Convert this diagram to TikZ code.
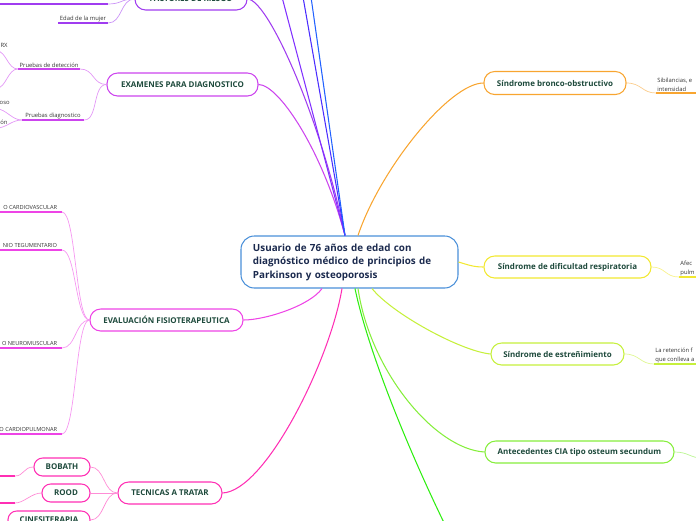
\documentclass[tikz,border=0pt]{standalone}
\usepackage{fontspec}
\setmainfont{Open Sans}
\usetikzlibrary{positioning}

\definecolor{hubline}{HTML}{4A90D9}
\definecolor{hubtext}{HTML}{1B2A4E}
\definecolor{nodetext}{HTML}{1E4A3C}
\definecolor{leaftext}{HTML}{333333}
\definecolor{riesgo}{HTML}{A03CF0}
\definecolor{examen}{HTML}{CC44EE}
\definecolor{evalua}{HTML}{EE44E6}
\definecolor{tecnica}{HTML}{FF2FB4}
\definecolor{bronco}{HTML}{F8A530}
\definecolor{dificul}{HTML}{F2E830}
\definecolor{estreni}{HTML}{C6F03C}
\definecolor{cia}{HTML}{86EE3C}
\definecolor{verde}{HTML}{2EEE10}
\definecolor{topa}{HTML}{8030FF}
\definecolor{topb}{HTML}{4A2CFF}
\definecolor{topc}{HTML}{2060FF}

\tikzset{
  hub/.style={draw=hubline, line width=0.9pt, rounded corners=4mm, fill=white,
    text=hubtext, font=\bfseries\fontsize{8.4}{11.5}\selectfont,
    align=left, text width=5.79cm, inner xsep=3.6mm, minimum height=1.56cm},
  topic/.style={draw=#1, line width=0.9pt, rounded corners=3.2mm, fill=white,
    text=nodetext, font=\bfseries\fontsize{6.8}{8}\selectfont,
    inner sep=0pt, minimum height=0.66cm},
  subtopic/.style={topic=#1, rounded corners=2.6mm, minimum height=0.54cm},
  branch/.style={draw=#1, line width=0.9pt},
  twig/.style={draw=#1!55, line width=0.6pt},
  uline/.style={draw=#1, line width=1.5pt},
  leaf/.style={text=leaftext, font=\fontsize{5}{7.6}\selectfont, inner sep=1pt},
  capsleaf/.style={leaf, font=\fontsize{4.8}{6}\selectfont, inner xsep=4pt, inner ysep=1.5pt},
}

\begin{document}
\begin{tikzpicture}[x=0.03cm, y=-0.03cm]

\useasboundingbox (0,0) rectangle (696,520);
\clip (0,0) rectangle (696,520);

% central topic
\node[hub] (hub) at (349.5,262)
  {Usuario de 76 años de edad con\\diagnóstico médico de principios de\\Parkinson y osteoporosis};

% left main topics
\node[topic=riesgo, minimum width=3.36cm] (fr) at (191,-1) {FACTORES DE RIESGO};
\node[topic=examen, minimum width=4.53cm, minimum height=0.69cm] (ex) at (182.5,84.5) {EXAMENES PARA DIAGNOSTICO};
\node[topic=evalua, minimum width=4.59cm] (ev) at (166.5,320) {EVALUACIÓN FISIOTERAPEUTICA};
\node[topic=tecnica, minimum width=3.12cm] (tec) at (170,493) {TECNICAS A TRATAR};

% right main topics
\node[topic=bronco, minimum width=4.26cm, minimum height=0.69cm] (bro) at (555,83) {Síndrome bronco-obstructivo};
\node[topic=dificul, minimum width=5.01cm] (dif) at (567.5,267) {Síndrome de dificultad respiratoria};
\node[topic=estreni, minimum width=3.99cm] (est) at (557.5,354) {Síndrome de estreñimiento};
\node[topic=cia, minimum width=5.67cm] (ant) at (579.5,452) {Antecedentes CIA tipo osteum secundum};

% branches to the hub
\draw[branch=riesgo] (fr.east) .. controls +(20,0) and +(-25,-120) .. ([xshift=-1.35mm]hub.north);
\draw[branch=examen] (ex.east) .. controls +(20,0) and +(-23,-86) .. ([xshift=-1.35mm]hub.north);
\foreach \x/\c [count=\i] in {282/topa, 303/topb, 311/topc} {
  \coordinate (up\i) at (\x,-3);
  \draw[branch=\c] (up\i) -- ([xshift=-1.35mm]hub.north);
}
\draw[branch=bronco] ([xshift=2.55mm]hub.north) .. controls +(22,-66) and +(-34,0) .. (bro.west);
\draw[branch=dificul] (hub.east) .. controls +(10,3) and +(-10,0) .. (dif.west);
\draw[branch=estreni] ([xshift=6.75mm]hub.south) .. controls +(20,25) and +(-30,-3) .. (est.west);
\draw[branch=cia] ([xshift=2.55mm]hub.south) .. controls +(12,82) and +(-50,-3) .. (ant.west);
\coordinate (gdown) at (450,535);
\draw[branch=verde] ([xshift=1.65mm]hub.south) .. controls +(13,62) and +(-42,-85) .. (gdown);
\draw[branch=evalua] ([xshift=-8.25mm]hub.south) .. controls +(-12,17) and +(22,0) .. (ev.east);
\draw[branch=tecnica] ([xshift=-2.25mm]hub.south) .. controls +(-12,72) and +(43,-2) .. (tec.east);

% factores de riesgo
\coordinate (fr1) at (108,4);
\node[leaf, anchor=south, minimum width=1.5cm] (edad) at (83,23) {Edad de la mujer};
\draw[uline=riesgo] (fr1) -- ++(-115,0);
\draw[uline=riesgo] (edad.south west) -- (edad.south east);
\draw[twig=riesgo] (fr.west) .. controls +(-14,0) and +(14,0) .. (fr1);
\draw[twig=riesgo] (fr.west) .. controls +(-14,0) and +(14,0) .. (edad.south east);

% examenes
\node[leaf, anchor=south, minimum width=1.86cm] (pdet) at (49,69) {Pruebas de detección};
\node[leaf, anchor=south, minimum width=1.86cm] (pdiag) at (53,120) {Pruebas diagnostico};
\draw[uline=examen] (pdet.south west) -- (pdet.south east);
\draw[uline=examen] (pdiag.south west) -- (pdiag.south east);
\draw[twig=examen] (ex.west) .. controls +(-14,0) and +(14,0) .. (pdet.south east);
\draw[twig=examen] (ex.west) .. controls +(-14,0) and +(14,0) .. (pdiag.south east);
\node[leaf, anchor=east] (rx) at (9,45) {RX};
\node[leaf, anchor=east] (oso) at (11,103) {oso};
\node[leaf, anchor=east] (ion) at (9,122) {ión};
\coordinate (rxa) at (-3,51);
\coordinate (rxb) at (-3,88);
\coordinate (dga) at (-3,109);
\coordinate (dgb) at (-3,128);
\draw[twig=examen] (pdet.south west) .. controls +(-10,0) and +(9,0) .. (rxa);
\draw[twig=examen] (pdet.south west) .. controls +(-10,0) and +(9,0) .. (rxb);
\draw[twig=examen] (pdiag.south west) .. controls +(-10,0) and +(9,0) .. (dga);
\draw[twig=examen] (pdiag.south west) .. controls +(-10,0) and +(9,0) .. (dgb);

% evaluacion
\node[capsleaf, anchor=south east] (ev1) at (62,212) {O CARDIOVASCULAR};
\node[capsleaf, anchor=south east] (ev2) at (62,250) {NIO TEGUMENTARIO};
\node[capsleaf, anchor=south east] (ev3) at (62,348) {O NEUROMUSCULAR};
\node[capsleaf, anchor=south east] (ev4) at (62,434) {O CARDIOPULMONAR};
\foreach \n in {ev1,ev2,ev3,ev4} {
  \draw[uline=evalua] (\n.south east) -- ++(-80,0);
  \draw[twig=evalua] (ev.west) .. controls +(-14,0) and +(14,0) .. (\n.south east);
}

% tecnicas
\node[subtopic=tecnica, minimum width=1.68cm] (bob) at (62,467) {BOBATH};
\node[subtopic=tecnica, minimum width=1.44cm] (rood) at (66,493) {ROOD};
\node[subtopic=tecnica, minimum width=2.46cm] (cine) at (49,520) {CINESITERAPIA};
\foreach \n in {bob,rood,cine}
  \draw[twig=tecnica] (tec.west) .. controls +(-14,0) and +(14,0) .. (\n.east);
\coordinate (bo1) at (15,476);
\coordinate (ro1) at (15,503);
\draw[twig=tecnica] (bob.west) .. controls +(-10,0) and +(9,0) .. (bo1);
\draw[twig=tecnica] (rood.west) .. controls +(-10,0) and +(9,0) .. (ro1);
\draw[uline=tecnica] (bo1) -- ++(-20,0);
\draw[uline=tecnica] (ro1) -- ++(-20,0);

% right leaves
\node[leaf, anchor=south west, align=left] (sib) at (656,93) {Sibilancias, e\\intensidad};
\node[leaf, anchor=south west, align=left] (afe) at (679,277) {Afec\\pulm};
\node[leaf, anchor=south west, align=left] (ret) at (654,364) {La retención f\\que conlleva a};
\draw[uline=bronco] (sib.south west) -- ++(50,0);
\draw[uline=dificul] (afe.south west) -- ++(30,0);
\draw[uline=estreni] (ret.south west) -- ++(50,0);
\draw[twig=bronco] (bro.east) .. controls +(15,0) and +(-14,0) .. (sib.south west);
\draw[twig=dificul] (dif.east) .. controls +(14,0) and +(-14,0) .. (afe.south west);
\draw[twig=estreni] (est.east) .. controls +(15,0) and +(-14,0) .. (ret.south west);
\coordinate (antr) at (702,458);
\draw[twig=cia] (ant.east) .. controls +(14,0) and +(-12,0) .. (antr);

\end{tikzpicture}
\end{document}
